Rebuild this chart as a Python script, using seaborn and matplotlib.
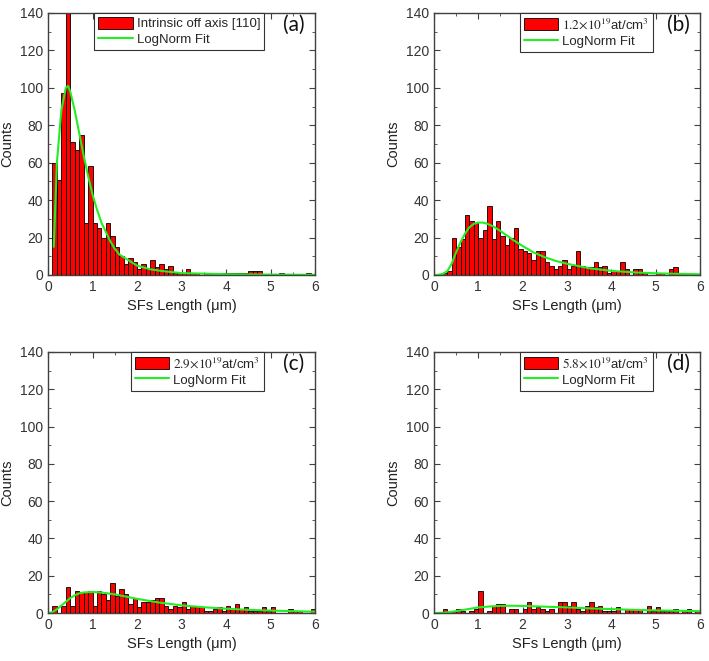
import numpy as np
import pandas as pd
import seaborn as sns
import matplotlib.pyplot as plt
from matplotlib.patches import Patch
from matplotlib.lines import Line2D
from matplotlib.ticker import MultipleLocator

sns.set_style("ticks")
plt.rcParams['font.family'] = ['Liberation Sans', 'DejaVu Sans']
plt.rcParams['mathtext.fontset'] = 'stix'

# bin counts, bins of 0.1 um from 0 to 6
bin_edges = [round(0.1 * i, 1) for i in range(61)]

counts_a = [0, 60, 51, 97, 140, 71, 67, 75, 28, 58,
            28, 25, 20, 28, 21, 15, 10, 6, 9, 7,
            3, 6, 3, 8, 4, 6, 3, 5, 1, 1,
            1, 3, 1, 1, 0, 1, 1, 0, 0, 1,
            1, 1, 1, 1, 1, 2, 2, 2, 0, 0,
            0, 0, 1, 0, 0, 0, 0, 0, 1, 0]
counts_b = [0, 0, 1, 2, 20, 15, 19, 32, 29, 28,
            20, 24, 37, 19, 29, 21, 16, 20, 25, 14,
            13, 12, 8, 13, 13, 7, 5, 3, 5, 8,
            3, 5, 13, 5, 4, 4, 7, 4, 5, 1,
            2, 2, 7, 3, 0, 3, 3, 1, 0, 0,
            1, 1, 0, 3, 4, 1, 0, 0, 0, 0]
counts_c = [0, 4, 0, 4, 14, 4, 12, 11, 11, 12,
            4, 12, 10, 7, 16, 9, 13, 10, 5, 8,
            3, 6, 6, 7, 8, 8, 4, 2, 4, 3,
            6, 2, 4, 4, 3, 1, 1, 2, 3, 1,
            4, 2, 5, 2, 3, 1, 1, 1, 3, 1,
            3, 0, 0, 0, 2, 1, 1, 0, 0, 2]
counts_d = [0, 0, 2, 0, 1, 2, 1, 0, 1, 2,
            12, 0, 1, 4, 5, 5, 0, 2, 2, 0,
            2, 6, 2, 3, 2, 1, 2, 0, 6, 6,
            4, 6, 2, 1, 4, 6, 3, 4, 1, 1,
            1, 3, 0, 2, 2, 2, 2, 0, 4, 1,
            3, 1, 1, 1, 2, 0, 1, 2, 0, 1]

# LogNorm fit curves
fit_x_a = [0.13, 0.2, 0.3, 0.4, 0.45, 0.5, 0.6, 0.7, 0.8, 0.9, 1.0, 1.1, 1.2,
           1.3, 1.4, 1.5, 1.6, 1.8, 2.0, 2.3, 2.6, 3.0, 4.0, 5.0, 6.0]
fit_y_a = [15, 60, 88, 100, 101, 98, 88, 76, 64, 53, 43, 35, 28,
           23, 18, 14, 11, 8, 5, 3, 2, 1, 0.4, 0.2, 0.1]
fit_x_b = [0.0, 0.1, 0.2, 0.3, 0.4, 0.5, 0.6, 0.7, 0.8, 0.9, 1.0, 1.1, 1.2, 1.35,
           1.5, 1.65, 1.8, 2.0, 2.25, 2.5, 2.75, 3.0, 3.5, 4.0, 4.5, 5.0, 5.5, 6.0]
fit_y_b = [0, 0.1, 0.6, 2, 6, 12, 17.5, 22, 25.5, 27.3, 28, 28, 27.4, 25.8,
           23.5, 21, 18.5, 15.5, 12, 9.5, 7.5, 6, 3.6, 2.2, 1.4, 0.9, 0.6, 0.4]
fit_x_c = [0.0, 0.1, 0.2, 0.3, 0.4, 0.5, 0.6, 0.7, 0.8, 1.0, 1.2, 1.5, 1.75,
           2.0, 2.5, 3.0, 3.5, 4.0, 4.5, 5.0, 5.5, 6.0]
fit_y_c = [0, 0.5, 2, 4, 6, 8, 9.5, 10.5, 11, 11.3, 11, 10, 8.8,
           7.6, 5.6, 4.1, 3.1, 2.3, 1.7, 1.3, 1.0, 0.7]
fit_x_d = [0.0, 0.25, 0.5, 0.75, 1.0, 1.25, 1.5, 1.75, 2.0, 2.5, 3.0, 3.5,
           4.0, 4.5, 5.0, 5.5, 6.0]
fit_y_d = [0, 0.2, 1.0, 2.0, 3.0, 3.5, 3.8, 3.9, 3.8, 3.4, 3.0, 2.5,
           2.1, 1.7, 1.4, 1.2, 1.0]

legend_labels = ["Intrinsic off axis [110]",
                 r"$1.2{\times}10^{19}$at/cm$^{3}$",
                 r"$2.9{\times}10^{19}$at/cm$^{3}$",
                 r"$5.8{\times}10^{19}$at/cm$^{3}$"]
panel_tags = ["(a)", "(b)", "(c)", "(d)"]

panels = [(counts_a, fit_x_a, fit_y_a), (counts_b, fit_x_b, fit_y_b),
          (counts_c, fit_x_c, fit_y_c), (counts_d, fit_x_d, fit_y_d)]

positions = [[0.0677, 0.584, 0.3766, 0.3964],
             [0.612, 0.584, 0.3752, 0.3964],
             [0.0677, 0.0726, 0.3766, 0.395],
             [0.612, 0.0726, 0.3752, 0.395]]

fig = plt.figure(figsize=(7.09, 6.61), dpi=100)
axis_col = "#404040"

for i, (cnts, fx, fy) in enumerate(panels):
    ax = fig.add_axes(positions[i])
    centers = [round(0.1 * k + 0.05, 2) for k in range(60)]
    df = pd.DataFrame({"x": centers, "n": cnts})
    sns.histplot(data=df, x="x", weights="n", bins=bin_edges, ax=ax,
                 color="#ff0000", edgecolor="black", linewidth=0.6, alpha=1)
    sns.lineplot(x=fx, y=fy, ax=ax, color="#22ee22", linewidth=1.5)
    ax.set_xlim(0, 6)
    ax.set_ylim(0, 140)
    ax.xaxis.set_major_locator(MultipleLocator(1))
    ax.xaxis.set_minor_locator(MultipleLocator(0.5))
    ax.yaxis.set_major_locator(MultipleLocator(20))
    ax.yaxis.set_minor_locator(MultipleLocator(10))
    ax.tick_params(which="both", direction="in", top=True, right=True,
                   colors=axis_col, labelcolor="#333333", labelsize=10)
    ax.tick_params(which="major", length=4)
    ax.tick_params(which="minor", length=2.5)
    for sp in ax.spines.values():
        sp.set_visible(True)
        sp.set_color(axis_col)
        sp.set_linewidth(1.0)
    ax.set_xlabel("SFs Length (μm)", fontsize=10.5, color="#222222")
    ax.set_ylabel("Counts", fontsize=10.5, color="#222222")
    ax.text(0.92, 0.955, panel_tags[i], transform=ax.transAxes, ha="center",
            va="center", fontsize=15, family=["Lato", "DejaVu Sans"],
            color="#111111")
    handles = [Patch(facecolor="#ff0000", edgecolor="black", linewidth=0.6),
               Line2D([], [], color="#22ee22", linewidth=1.5)]
    anchor_x = 0.81 if i % 2 == 0 else 0.823
    leg = ax.legend(handles, [legend_labels[i], "LogNorm Fit"],
                    loc="upper right", bbox_to_anchor=(anchor_x, 1.0),
                    borderaxespad=0, fancybox=False, framealpha=1,
                    edgecolor="#333333", fontsize=9.5, handlelength=2.6,
                    handleheight=1.0, handletextpad=0.3, borderpad=0.3,
                    labelspacing=0.2)
    leg.get_frame().set_linewidth(0.8)

fig.savefig("out.png", dpi=100)
